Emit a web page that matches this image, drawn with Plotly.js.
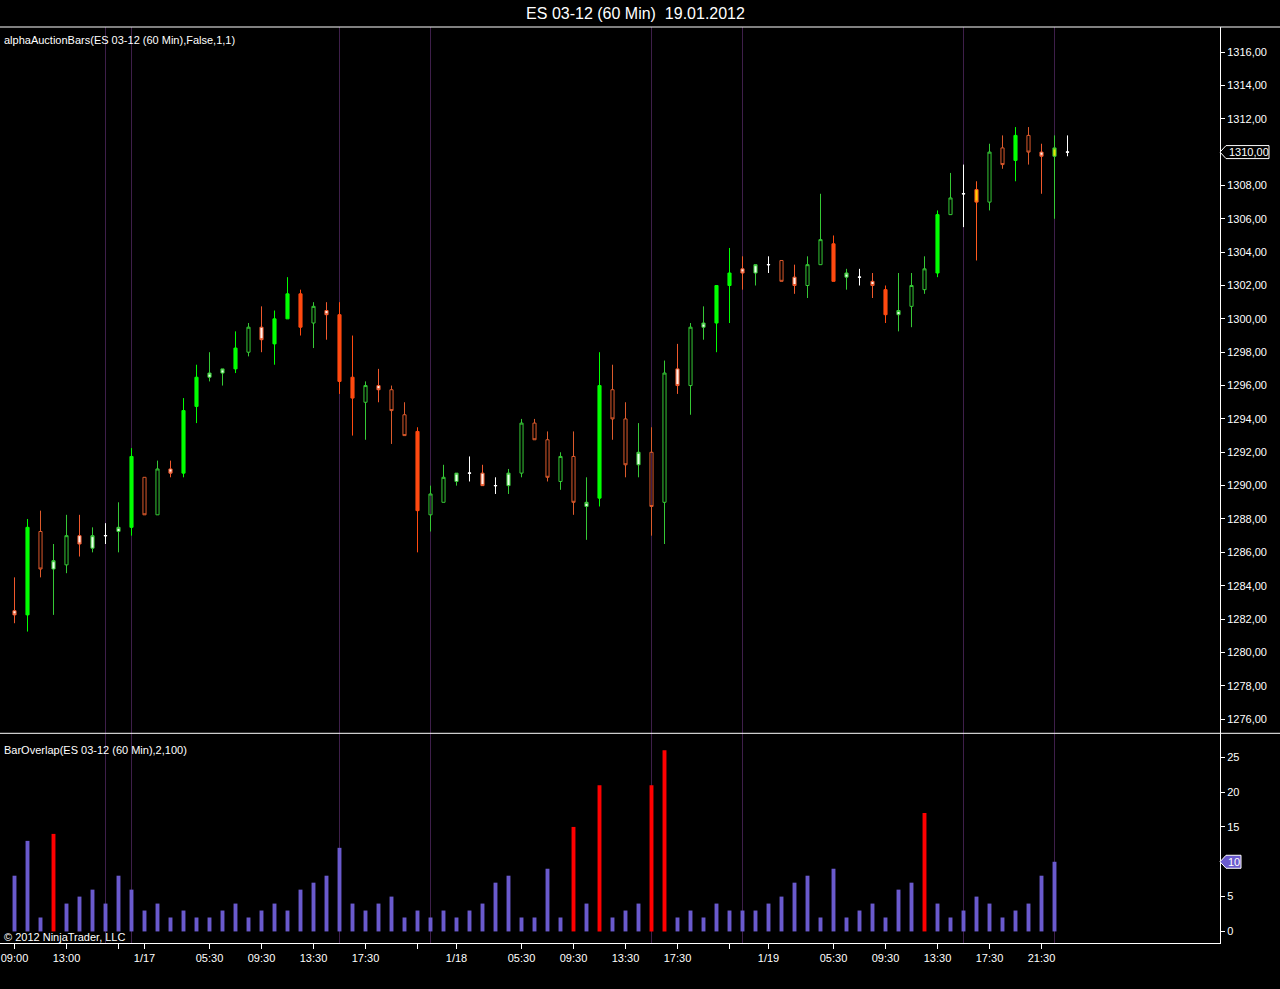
<!DOCTYPE html>
<html>
<head>
<meta charset="utf-8">
<script src="https://cdn.plot.ly/plotly-3.0.1.min.js"></script>
<style>
html,body{margin:0;padding:0;background:#000;}
#chart{width:1280px;height:989px;}
</style>
</head>
<body>
<div id="chart"></div>
<script>
// ---- data ----
const chartTitle = 'ES 03-12 (60 Min)\u00a0\u00a019.01.2012';
const priceLabel = 'alphaAuctionBars(ES 03-12 (60 Min),False,1,1)';
const overlapLabel = 'BarOverlap(ES 03-12 (60 Min),2,100)';
const copyrightText = '\u00a9 2012 NinjaTrader, LLC';

const openP = [1282.5,1282.25,1287.25,1285,1285.25,1287,1286.25,1287,1287.25,1287.5,
  1290.5,1288.25,1291,1290.75,1294.75,1296.5,1296.75,1297,1298,1299.5,
  1298.5,1300,1301.5,1299.75,1300.5,1300.25,1296.5,1295,1296,1295.75,
  1294.25,1293.25,1288.25,1289,1290.25,1290.75,1290.75,1290,1290,1290.75,
  1293.75,1292.75,1290.25,1291.75,1288.75,1289.25,1295.75,1294,1291.25,1292,
  1289,1297,1296,1299.5,1299.75,1302,1303,1302.75,1303.25,1303.5,
  1302.5,1302,1303.25,1304.5,1302.5,1302.5,1302.25,1301.75,1300.25,1300.75,
  1301.75,1302.75,1306.25,1307.5,1307.75,1307,1310.25,1309.5,1311,1310,
  1309.75,1310];
const highP = [1284.5,1288,1288.5,1286.5,1288.25,1288.25,1287.5,1287.75,1289,1292.25,
  1290.5,1291.5,1291.5,1295.25,1297.25,1298,1297,1299.25,1299.75,1300.75,
  1300.5,1302.5,1301.75,1301,1301,1301,1299,1296.25,1297,1296,
  1295,1293.5,1290,1291.25,1290.75,1291.75,1291.25,1290.5,1291,1294,
  1294,1293.25,1292,1293.25,1290.5,1298,1297.25,1295,1293.75,1293.5,
  1297.5,1298.5,1299.75,1300.75,1302,1304.25,1303.75,1303.25,1303.75,1303.5,
  1303.25,1303.75,1307.5,1305,1303,1303,1302.75,1302,1302.75,1302.75,
  1303.75,1306.5,1308.75,1309.25,1308.25,1310.5,1311,1311.5,1311.5,1310.5,
  1311,1311];
const lowP = [1281.75,1281.25,1284.5,1282.25,1284.75,1285.75,1286,1286.5,1286,1287,
  1288.25,1288.25,1290.5,1290.5,1293.75,1296.25,1296,1296.75,1297.75,1298,
  1297.25,1300,1299,1298.25,1298.75,1295.5,1293,1292.75,1295,1292.5,
  1293,1286,1287.25,1289,1290,1290.25,1290,1289.5,1289.5,1290.5,
  1292.75,1290.25,1289.75,1288.25,1286.75,1288.75,1292.75,1290.5,1290.5,1287,
  1286.5,1295.5,1294.25,1298.75,1298,1299.75,1301.75,1302,1302.75,1302.25,
  1301.5,1301.25,1303.25,1302.25,1301.75,1302,1301.25,1299.75,1299.25,1299.5,
  1301.5,1302.5,1306.25,1305.5,1303.5,1306.5,1309,1308.25,1309.25,1307.5,
  1306,1309.75];
const closeP = [1282.25,1287.5,1285,1285.5,1287,1286.5,1287,1287,1287.5,1291.75,
  1288.25,1291,1290.75,1294.5,1296.5,1296.75,1297,1298.25,1299.5,1298.75,
  1300,1301.5,1299.5,1300.75,1300.25,1296.25,1295.25,1296,1295.75,1294.5,
  1293,1288.5,1289.5,1290.5,1290.75,1290.75,1290,1290,1290.75,1293.75,
  1292.75,1290.5,1291.75,1289,1289,1296,1294,1291.25,1292,1288.75,
  1296.75,1296,1299.5,1299.75,1302,1302.75,1302.75,1303.25,1303.25,1302.25,
  1302,1303.25,1304.75,1302.25,1302.75,1302.5,1302,1300.25,1300.5,1302,
  1303,1306.25,1307.25,1307.5,1307,1310,1309.25,1311,1310,1309.75,
  1310.25,1310];
// auction-bar state per bar as classified by the indicator
const barState = ['WR','SG','HR','WG','HG','WR','WG','X','WG','SG',
  'HR','HG','WR','SG','SG','WG','WG','SG','HG','WR',
  'SG','SG','SR','HG','WR','SR','SR','HG','WR','HR',
  'HR','SR','HG','HG','WG','X','WR','X','WG','HG',
  'HR','HR','HG','HR','WG','SG','HR','HR','WG','HR',
  'HG','WR','HG','WG','SG','SG','WR','WG','X','HR',
  'WR','HG','HG','SR','WG','X','WR','SR','WG','HG',
  'HG','SG','HG','X','YR','HG','HR','SG','HR','WR',
  'YG','X'];
// BarOverlap indicator values
const overlap = [8,13,2,14,4,5,6,4,8,6,
  3,4,2,3,2,2,3,4,2,3,
  4,3,6,7,8,12,4,3,4,5,
  2,3,2,3,2,3,4,7,8,2,
  2,9,2,15,4,21,2,3,4,21,
  26,2,3,2,4,3,3,3,4,5,
  7,8,2,9,2,3,4,2,6,7,
  17,4,2,3,5,4,2,3,4,8,
  10];
const overlapAlert = 14;
// time-axis labels
const tickIdx = [0,4,8,10,15,19,23,27,31,34,39,43,47,51,55,58,63,67,71,75,79];
const tickText = ['09:00','13:00','','1/17','05:30','09:30','13:30','17:30','','1/18',
  '05:30','09:30','13:30','17:30','','1/19','05:30','09:30','13:30','17:30','21:30'];
// session separator bars
const sessionMarks = [7,9,25,32,49,56,73,80];

// ---- styles ----
const styles = {
  SG:{line:'#00ff00', fill:'#00ff00'},
  HG:{line:'#35c835', fill:'rgba(0,0,0,0)'},
  WG:{line:'#35c835', fill:'#eaffea'},
  SR:{line:'#ff4a10', fill:'#ff4a10'},
  HR:{line:'#dc5a2c', fill:'rgba(0,0,0,0)'},
  WR:{line:'#f0582c', fill:'#fff2ec'},
  X: {line:'#ffffff', fill:'#ffffff'},
  YR:{line:'#ff5a1e', fill:'#ffd400'},
  YG:{line:'#35c835', fill:'#e8e800'}
};
const FONT = 'Liberation Sans, Arial, sans-serif';
const WHITE = '#ffffff';

const traces = [];
Object.keys(styles).forEach(code => {
  const idx = barState.map((s,i)=> s===code ? i : -1).filter(i=>i>=0);
  if(!idx.length) return;
  const st = styles[code];
  const side = {line:{color:st.line,width:1}, fillcolor:st.fill};
  traces.push({
    type:'candlestick', x:idx,
    open:idx.map(i=>openP[i]), high:idx.map(i=>highP[i]),
    low:idx.map(i=>lowP[i]), close:idx.map(i=>closeP[i]),
    increasing:side, decreasing:side, whiskerwidth:0,
    xaxis:'x', yaxis:'y', hoverinfo:'none', showlegend:false
  });
});
traces.push({
  type:'bar', x:overlap.map((v,i)=>i), y:overlap, width:0.3,
  marker:{color:overlap.map(v=> v>=overlapAlert ? '#ff0000' : '#6a5acd'), line:{width:0}},
  xaxis:'x', yaxis:'y2', hoverinfo:'none', showlegend:false
});

const plotW = 1220, plotH = 916, splitPx = 733.3, topPx = 27, bottomPx = 943;
const split = (bottomPx - splitPx) / plotH;
const rightEdge = 1280 / plotW;
const pyPaper = p => (bottomPx - p) / plotH;
// 13 px per bar, first bar centred on a half pixel so 1px wicks stay crisp
const barPx = 13, firstBarPx = 14.5;
const xr0 = -firstBarPx / barPx, xr1 = xr0 + plotW / barPx;

const shapes = [
  {type:'line', xref:'paper', yref:'paper', x0:0, x1:rightEdge, y0:1, y1:1, line:{color:WHITE,width:1}},
  {type:'line', xref:'paper', yref:'paper', x0:0, x1:rightEdge, y0:split, y1:split, line:{color:WHITE,width:1}}
];
sessionMarks.forEach(i => shapes.push({
  type:'line', xref:'x', yref:'paper', x0:i, x1:i, y0:0, y1:1, layer:'below',
  line:{color:'#3e1f4a', width:1}
}));
const lastClose = closeP[closeP.length-1];
const lastOverlap = overlap[overlap.length-1];
shapes.push({
  type:'path', xref:'paper', yref:'y', xsizemode:'pixel', ysizemode:'pixel',
  xanchor:1, yanchor:lastClose,
  path:'M 0 0 L 6 6.5 L 49 6.5 L 49 -6.5 L 6 -6.5 Z',
  line:{color:WHITE,width:1}, fillcolor:'#000000'
});
shapes.push({
  type:'path', xref:'paper', yref:'y2', xsizemode:'pixel', ysizemode:'pixel',
  xanchor:1, yanchor:lastOverlap,
  path:'M 0 0 L 6 6.5 L 21 6.5 L 21 -6.5 L 6 -6.5 Z',
  line:{color:WHITE,width:1}, fillcolor:'#6a5acd'
});

const annotations = [
  {text:priceLabel, xref:'paper', yref:'paper', x:2/plotW, y:pyPaper(40), xanchor:'left', yanchor:'middle', showarrow:false, font:{family:FONT,size:11,color:WHITE}},
  {text:overlapLabel, xref:'paper', yref:'paper', x:2/plotW, y:pyPaper(750), xanchor:'left', yanchor:'middle', showarrow:false, font:{family:FONT,size:11,color:WHITE}},
  {text:copyrightText, xref:'paper', yref:'paper', x:2/plotW, y:pyPaper(937), xanchor:'left', yanchor:'middle', showarrow:false, font:{family:FONT,size:11,color:WHITE}},
  {text:lastClose.toFixed(2).replace('.',','), xref:'paper', yref:'y', x:1, y:lastClose, xanchor:'left', yanchor:'middle', xshift:7, showarrow:false, font:{family:FONT,size:11,color:WHITE}},
  {text:String(lastOverlap), xref:'paper', yref:'y2', x:1, y:lastOverlap, xanchor:'left', yanchor:'middle', xshift:6, showarrow:false, font:{family:FONT,size:11,color:WHITE}}
];

const axisCommon = {
  showgrid:false, zeroline:false, showline:true, linecolor:WHITE, linewidth:1,
  ticks:'outside', tickcolor:WHITE, tickwidth:1, fixedrange:true,
  tickfont:{family:FONT,size:11,color:WHITE}
};

const layout = {
  width:1280, height:989,
  paper_bgcolor:'#000000', plot_bgcolor:'#000000',
  margin:{l:0, r:1280-plotW, t:topPx, b:989-bottomPx, pad:0},
  separators:',.',
  showlegend:false,
  barmode:'overlay',
  boxgap:0.66,
  title:{text:chartTitle, x:0.4965, xref:'container', y:1-13.3/989, yref:'container', xanchor:'center', yanchor:'middle',
    font:{family:FONT,size:16,color:WHITE}},
  xaxis:Object.assign({}, axisCommon, {
    anchor:'y2', range:[xr0, xr1], tickmode:'array', tickvals:tickIdx, ticktext:tickText,
    ticklen:5, rangeslider:{visible:false}
  }),
  yaxis:Object.assign({}, axisCommon, {
    domain:[split,1], anchor:'x', side:'right', range:[1275.15,1317.5],
    tick0:1276, dtick:2, tickformat:'.2f', ticklen:4
  }),
  yaxis2:Object.assign({}, axisCommon, {
    domain:[0,split], anchor:'x', side:'right', range:[-1.66,28.44],
    tick0:0, dtick:5, tickformat:'d', ticklen:4
  }),
  shapes:shapes,
  annotations:annotations
};

Plotly.newPlot('chart', traces, layout, {displayModeBar:false, staticPlot:true});
</script>
</body>
</html>
